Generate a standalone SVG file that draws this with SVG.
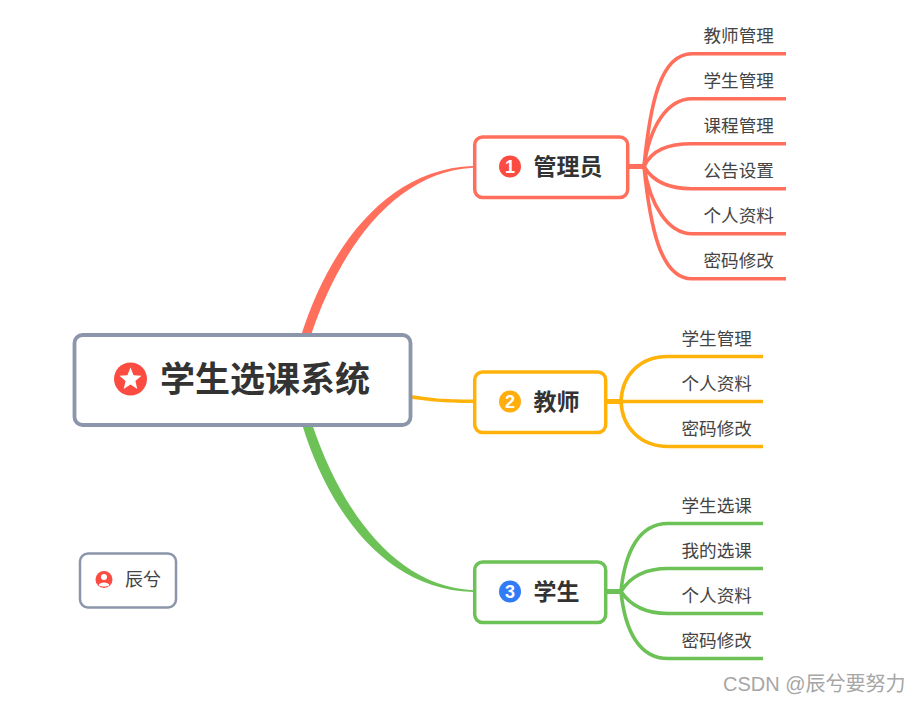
<svg xmlns="http://www.w3.org/2000/svg" width="917" height="703" viewBox="0 0 917 703">
<style>
text{font-family:"Noto Sans CJK SC","Liberation Sans",sans-serif;fill:#333}
.box{fill:#fff;stroke-width:3.5}
.root{font-size:35px;font-weight:700}
.main{font-size:23px;font-weight:700}
.leaf{font-size:17.6px;fill:#444}
.num{font-size:18px;font-weight:700;fill:#fff;text-anchor:middle;font-family:"Liberation Sans",sans-serif}
.r{fill:none;stroke:#FF6F5C;stroke-width:3.6}
.o{fill:none;stroke:#FFB20A;stroke-width:3.6}
.g{fill:none;stroke:#6CC256;stroke-width:3.6}
</style>
<rect width="917" height="703" fill="#fff"/>
<g id="connectors">
<path d="M301 336C328 250 385 169 473 166L473 167.800C393 172 338 252 310 338Z" fill="#FF6F5C"/>
<path d="M411 395C432 398 440 399.500 473 399.500L473 403C440 403 432 401 411 399Z" fill="#FFB20A"/>
<path d="M302 424C328 510 385 590 473 592L473 590.200C393 586 340 507 312 424Z" fill="#6CC256"/>
<path d="M628 166.500H646" stroke="#FF6F5C" stroke-width="5" fill="none"/>
<path class="r" d="M644 166.500C650 105 660 53.800 692 53.800H786"/>
<path class="r" d="M644 166.500C650 125 668 98.800 692 98.800H786"/>
<path class="r" d="M644 166.500C652 150 668 143.800 692 143.800H786"/>
<path class="r" d="M644 166.500C652 180 668 188.800 692 188.800H786"/>
<path class="r" d="M644 166.500C650 205 668 233.800 692 233.800H786"/>
<path class="r" d="M644 166.500C650 225 660 278.800 692 278.800H786"/>
<path d="M606 401.500H622" stroke="#FFB20A" stroke-width="5" fill="none"/>
<path class="o" d="M621 401.500C622 375 640 356.500 668 356.500H763"/>
<path class="o" d="M621 401.500H763"/>
<path class="o" d="M621 401.500C622 427 640 446.500 668 446.500H763"/>
<path d="M606 591.500H622" stroke="#6CC256" stroke-width="5" fill="none"/>
<path class="g" d="M621 591.500C625 550 640 523.500 668 523.500H763"/>
<path class="g" d="M621 591.500C630 577 646 568.500 668 568.500H763"/>
<path class="g" d="M621 591.500C630 605 646 613.500 668 613.500H763"/>
<path class="g" d="M621 591.500C625 632 640 658.500 668 658.500H763"/>
</g>
<g id="root">
<rect x="74.500" y="335" width="336" height="90" rx="8" class="box" stroke="#8C96AB" style="stroke-width:3.800"/>
<circle cx="130.500" cy="379" r="16.500" fill="#FC4B40"/>
<polygon points="130.500,367.500 133.600,375.200 141.500,375.700 135.400,381 137.300,389 130.500,384.600 123.700,389 125.600,381 119.500,375.700 127.400,375.200" fill="#fff"/>
<text class="root" x="160" y="391.500">学生选课系统</text>
</g>
<g id="node-admin">
<rect x="474.700" y="137" width="153" height="60.500" rx="8" class="box" stroke="#FF6F5C"/>
<circle cx="510" cy="166.500" r="11" fill="#FC4B40"/>
<text class="num" x="510" y="173">1</text>
<text class="main" x="533.500" y="174.500">管理员</text>
</g>
<g id="node-teacher">
<rect x="474.700" y="372" width="131" height="60.500" rx="8" class="box" stroke="#FFB20A"/>
<circle cx="510" cy="401.500" r="11" fill="#FFAE0D"/>
<text class="num" x="510" y="408">2</text>
<text class="main" x="533.500" y="409.500">教师</text>
</g>
<g id="node-student">
<rect x="474.700" y="562" width="131" height="60.500" rx="8" class="box" stroke="#6CC256"/>
<circle cx="510" cy="591.500" r="11" fill="#2F7CF6"/>
<text class="num" x="510" y="598">3</text>
<text class="main" x="533.500" y="599.500">学生</text>
</g>
<g id="leaves-admin">
<text class="leaf" x="703.500" y="42">教师管理</text>
<text class="leaf" x="703.500" y="87">学生管理</text>
<text class="leaf" x="703.500" y="132">课程管理</text>
<text class="leaf" x="703.500" y="177">公告设置</text>
<text class="leaf" x="703.500" y="222">个人资料</text>
<text class="leaf" x="703.500" y="266.500">密码修改</text>
</g>
<g id="leaves-teacher">
<text class="leaf" x="681.500" y="345">学生管理</text>
<text class="leaf" x="681.500" y="390">个人资料</text>
<text class="leaf" x="681.500" y="434.500">密码修改</text>
</g>
<g id="leaves-student">
<text class="leaf" x="681.500" y="512">学生选课</text>
<text class="leaf" x="681.500" y="557">我的选课</text>
<text class="leaf" x="681.500" y="602">个人资料</text>
<text class="leaf" x="681.500" y="646.500">密码修改</text>
</g>
<g id="note">
<rect x="80" y="553.500" width="96" height="54" rx="8" class="box" stroke="#8C96AB" style="stroke-width:2.500"/>
<circle cx="104" cy="579.500" r="8.500" fill="#FC4B40"/>
<circle cx="104" cy="577" r="3" fill="#fff"/>
<path d="M98.500 585C100 581.500 108 581.500 109.500 585C107 587 101 587 98.500 585Z" fill="#fff"/>
<text x="125" y="586" style="font-size:18px;fill:#444">辰兮</text>
</g>
<text x="723" y="691" style="font-family:'Liberation Sans','Noto Sans CJK SC',sans-serif;font-size:20px;fill:#a6a6a6">CSDN @辰兮要努力</text>
</svg>
